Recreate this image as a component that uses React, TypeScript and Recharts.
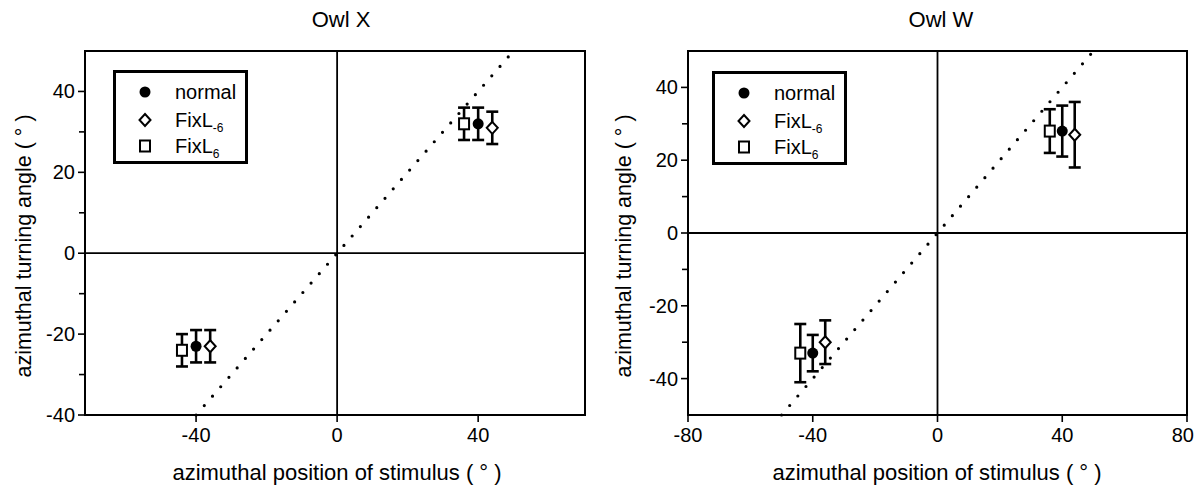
import React from 'react';
import {
  ScatterChart,
  Scatter,
  XAxis,
  YAxis,
  ErrorBar,
  ReferenceLine,
  ReferenceArea,
  Legend,
  Label,
} from 'recharts';

const FONT = "'Liberation Sans', Arial, Helvetica, sans-serif";

// ---------- Owl X data ----------
const owlXNormal = [
  { x: -40, y: -23, err: [4, 4] },
  { x: 40, y: 32, err: [4, 4] },
];
const owlXFixLm6 = [
  { x: -36, y: -23, err: [4, 4] },
  { x: 44, y: 31, err: [4, 4] },
];
const owlXFixL6 = [
  { x: -44, y: -24, err: [4, 4] },
  { x: 36, y: 32, err: [4, 4] },
];
const owlXDiagonal = [
  { x: -40, y: -40 },
  { x: 50, y: 50 },
];
const owlXDomainX = [-71.5, 70.3];
const owlXDomainY = [-40, 50];
const owlXTicksX = [-40, 0, 40];
const owlXTicksY = [-40, -30, -20, -10, 0, 10, 20, 30, 40];
const owlXLabeledY = [-40, -20, 0, 20, 40];

// ---------- Owl W data ----------
const owlWNormal = [
  { x: -40, y: -33, err: [5, 5] },
  { x: 40, y: 28, err: [7, 7] },
];
const owlWFixLm6 = [
  { x: -36, y: -30, err: [6, 6] },
  { x: 44, y: 27, err: [9, 9] },
];
const owlWFixL6 = [
  { x: -44, y: -33, err: [8, 8] },
  { x: 36, y: 28, err: [6, 6] },
];
const owlWDiagonal = [
  { x: -50, y: -50 },
  { x: 50, y: 50 },
];
const owlWDomainX = [-80, 80];
const owlWDomainY = [-50, 50];
const owlWTicksX = [-80, -40, 0, 40, 80];
const owlWTicksY = [-40, -30, -20, -10, 0, 10, 20, 30, 40];
const owlWLabeledY = [-40, -20, 0, 20, 40];

const xTitle = 'azimuthal position of stimulus ( ° )';
const yTitle = 'azimuthal turning angle ( ° )';

const TS = 7;
const TM = 3;
const TICK_FONT = 20;

function YTick(props: any) {
  const { x, y, payload, labeled } = props;
  const v = payload.value;
  const major = labeled.includes(v);
  const ax = x + TM + TS;
  return (
    <g>
      <line x1={ax - (major ? 7 : 6)} x2={ax} y1={y} y2={y} stroke="#000" strokeWidth={1.6} />
      {major && (
        <text x={x} y={y + 7} textAnchor="end" fontSize={TICK_FONT} fontFamily={FONT} fill="#000">
          {v}
        </text>
      )}
    </g>
  );
}

function XTick(props: any) {
  const { x, y, payload, lastValue } = props;
  const ay = y - TM - TS;
  const isEdge = payload.value === lastValue;
  return (
    <g>
      <line x1={x} x2={x} y1={ay} y2={ay + 7} stroke="#000" strokeWidth={1.6} />
      <text
        x={isEdge ? x + 7 : x}
        y={y + 17}
        textAnchor={isEdge ? 'end' : 'middle'}
        fontSize={TICK_FONT}
        fontFamily={FONT}
        fill="#000"
      >
        {payload.value}
      </text>
    </g>
  );
}

const circleShape = (p: any) => <circle cx={p.cx} cy={p.cy} r={5.5} fill="#000" />;
const diamondShape = (p: any) => (
  <path
    d={`M${p.cx},${p.cy - 6} L${p.cx + 5.5},${p.cy} L${p.cx},${p.cy + 6} L${p.cx - 5.5},${p.cy} Z`}
    fill="#fff"
    stroke="#000"
    strokeWidth={2}
  />
);
const squareShape = (p: any) => (
  <rect x={p.cx - 5} y={p.cy - 5.5} width={10} height={11} fill="#fff" stroke="#000" strokeWidth={2} />
);

function LegendBox() {
  const rows = [22, 50, 76];
  return (
    <svg width={135} height={96} style={{ display: 'block', overflow: 'visible' }}>
      <rect x={1.5} y={1.5} width={132} height={91} fill="#fff" stroke="#000" strokeWidth={3} />
      <circle cx={32} cy={rows[0]} r={5.5} fill="#000" />
      <path
        d={`M32,${rows[1] - 6} L37.5,${rows[1]} L32,${rows[1] + 6} L26.5,${rows[1]} Z`}
        fill="#fff"
        stroke="#000"
        strokeWidth={2}
      />
      <rect x={27} y={rows[2] - 5.5} width={10} height={11} fill="#fff" stroke="#000" strokeWidth={2} />
      <text x={62} y={rows[0] + 7} fontSize={20} fontFamily={FONT} fill="#000">
        normal
      </text>
      <text x={62} y={rows[1] + 7} fontSize={20} fontFamily={FONT} fill="#000">
        FixL
        <tspan fontSize={12} dy={5}>
          -6
        </tspan>
      </text>
      <text x={62} y={rows[2] + 7} fontSize={20} fontFamily={FONT} fill="#000">
        FixL
        <tspan fontSize={12} dy={5}>
          6
        </tspan>
      </text>
    </svg>
  );
}

function Panel(props: any) {
  const {
    width,
    title,
    titleX,
    yAxisWidth,
    marginRight,
    domainX,
    domainY,
    ticksX,
    ticksY,
    labeledY,
    normal,
    fixLm6,
    fixL6,
    diagonal,
    legendLeft,
    legendTop,
    edgeTick,
  } = props;
  return (
    <ScatterChart
      width={width}
      height={487}
      margin={{ top: 51, right: marginRight, bottom: 32, left: 0 }}
    >
      <XAxis
        type="number"
        dataKey="x"
        domain={domainX}
        ticks={ticksX}
        interval={0}
        allowDataOverflow
        height={40}
        tickSize={TS}
        tickMargin={TM}
        tickLine={false}
        axisLine={false}
        tick={(p: any) => <XTick {...p} lastValue={edgeTick} />}
      >
        <Label
          content={() => (
            <text x={titleX} y={480} textAnchor="middle" fontSize={22} fontFamily={FONT} fill="#000">
              {xTitle}
            </text>
          )}
        />
        <Label
          content={() => (
            <text x={titleX + 4} y={27} textAnchor="middle" fontSize={22} fontFamily={FONT} fill="#000">
              {title}
            </text>
          )}
        />
      </XAxis>
      <YAxis
        type="number"
        dataKey="y"
        domain={domainY}
        ticks={ticksY}
        interval={0}
        allowDataOverflow
        width={yAxisWidth}
        tickSize={TS}
        tickMargin={TM}
        tickLine={false}
        axisLine={false}
        tick={(p: any) => <YTick {...p} labeled={labeledY} />}
      >
        <Label
          content={() => (
            <text
              x={31}
              y={246}
              transform="rotate(-90 31 246)"
              textAnchor="middle"
              fontSize={21.5}
              fontFamily={FONT}
              fill="#000"
            >
              {yTitle}
            </text>
          )}
        />
      </YAxis>
      <ReferenceArea
        x1={domainX[0]}
        x2={domainX[1]}
        y1={domainY[0]}
        y2={domainY[1]}
        fill="none"
        fillOpacity={0}
        stroke="#000"
        strokeWidth={2}
      />
      <ReferenceLine x={0} stroke="#000" strokeWidth={1.8} />
      <ReferenceLine y={0} stroke="#000" strokeWidth={1.8} />
      <ReferenceLine
        segment={diagonal}
        stroke="#000"
        strokeWidth={3.2}
        strokeDasharray="0 12.5"
        strokeLinecap="round"
      />
      <Legend
        layout="vertical"
        align="center"
        verticalAlign="middle"
        wrapperStyle={{ left: legendLeft, top: legendTop, width: 135, height: 96 }}
        content={() => <LegendBox />}
      />
      <Scatter name="FixL6" data={fixL6} shape={squareShape} isAnimationActive={false}>
        <ErrorBar dataKey="err" direction="y" width={6} stroke="#000" strokeWidth={2.6} />
      </Scatter>
      <Scatter name="FixL-6" data={fixLm6} shape={diamondShape} isAnimationActive={false}>
        <ErrorBar dataKey="err" direction="y" width={6} stroke="#000" strokeWidth={2.6} />
      </Scatter>
      <Scatter name="normal" data={normal} shape={circleShape} isAnimationActive={false}>
        <ErrorBar dataKey="err" direction="y" width={6} stroke="#000" strokeWidth={2.6} />
      </Scatter>
    </ScatterChart>
  );
}

export default function App() {
  return (
    <div
      style={{
        position: 'absolute',
        left: 0,
        top: 0,
        width: 1195,
        height: 487,
        background: '#fff',
        fontFamily: FONT,
      }}
    >
      <div style={{ position: 'absolute', left: 0, top: 0 }}>
        <Panel
          width={600}
          title="Owl X"
          titleX={337}
          yAxisWidth={85}
          marginRight={15}
          domainX={owlXDomainX}
          domainY={owlXDomainY}
          ticksX={owlXTicksX}
          ticksY={owlXTicksY}
          labeledY={owlXLabeledY}
          normal={owlXNormal}
          fixLm6={owlXFixLm6}
          fixL6={owlXFixL6}
          diagonal={owlXDiagonal}
          legendLeft={113}
          legendTop={70}
          edgeTick={null}
        />
      </div>
      <div style={{ position: 'absolute', left: 600, top: 0 }}>
        <Panel
          width={595}
          title="Owl W"
          titleX={337}
          yAxisWidth={88}
          marginRight={8}
          domainX={owlWDomainX}
          domainY={owlWDomainY}
          ticksX={owlWTicksX}
          ticksY={owlWTicksY}
          labeledY={owlWLabeledY}
          normal={owlWNormal}
          fixLm6={owlWFixLm6}
          fixL6={owlWFixL6}
          diagonal={owlWDiagonal}
          legendLeft={112}
          legendTop={71}
          edgeTick={80}
        />
      </div>
    </div>
  );
}
